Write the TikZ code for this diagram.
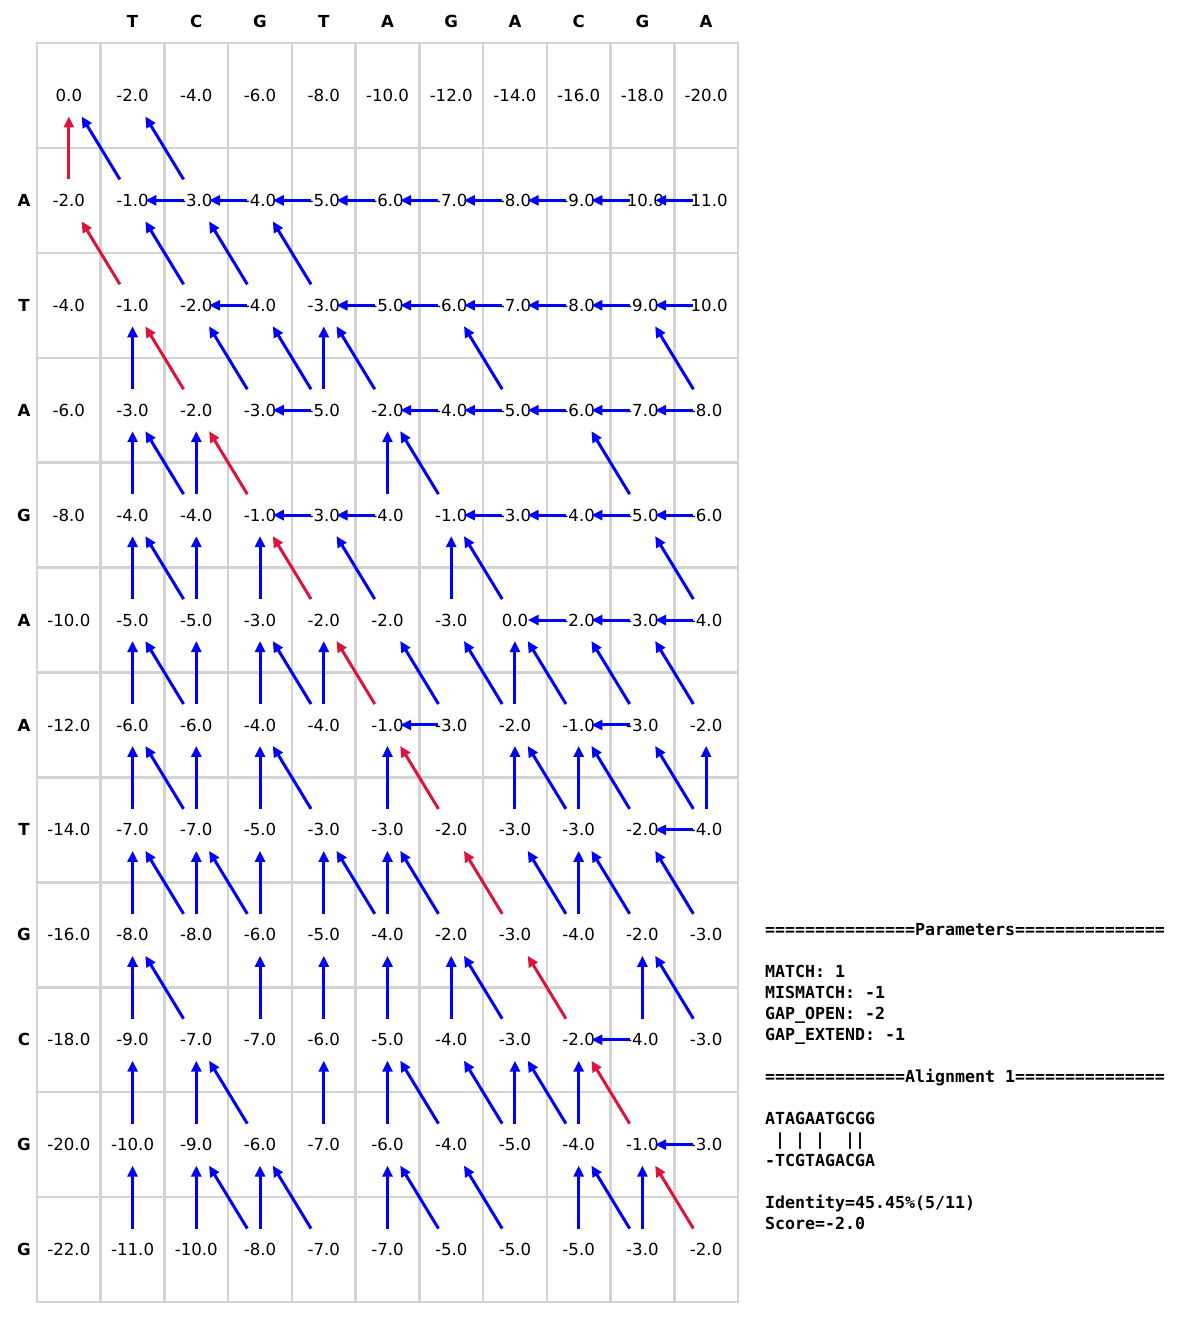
\documentclass[tikz,border=0pt]{standalone}
\usepackage{fontspec}
\setmainfont{DejaVu Sans}
\setmonofont{DejaVu Sans Mono}
\usetikzlibrary{calc,arrows.meta}
\definecolor{pathred}{RGB}{220,20,60}
\definecolor{arrblue}{RGB}{0,0,255}
\definecolor{gridgray}{RGB}{211,211,211}
\begin{document}
\begin{tikzpicture}[x=1pt,y=-1pt,
  cellval/.style={font=\fontsize{16.6}{20}\selectfont, inner sep=0pt},
  headlbl/.style={font=\fontsize{16.6}{20}\selectfont\bfseries, inner sep=0pt},
  paneltxt/.style={font=\fontsize{16.6}{20}\selectfont\ttfamily\bfseries, inner sep=0pt, anchor=base west},
  gridline/.style={draw=gridgray, line width=2.5pt},
  trace/.style={line width=3pt, -{Triangle[length=11pt,width=10pt]}},
  bluearr/.style={trace, color=arrblue},
  redarr/.style={trace, color=pathred}]
\useasboundingbox (0,0) rectangle (1200,1320);
% grid
\foreach \k in {1,...,10} \draw[gridline] ({37+63.727*\k},43) -- ({37+63.727*\k},1302);
\foreach \k in {1,...,11} \draw[gridline] (37,{43+104.917*\k}) -- (738,{43+104.917*\k});
\draw[gridline] (37,43) rectangle (738,1302);
% headers
\foreach \s [count=\j] in {T,C,G,T,A,G,A,C,G,A}
  \node[headlbl] (col\j) at ({37+63.727*(\j+0.5)},21) {\s};
\foreach \s [count=\i] in {A,T,A,G,A,A,T,G,C,G,G}
  \node[headlbl] (row\i) at (24,{43+104.917*(\i+0.5)}) {\s};
% cells
\foreach \rowvals [count=\i from 0] in {
 {0.0,-2.0,-4.0,-6.0,-8.0,-10.0,-12.0,-14.0,-16.0,-18.0,-20.0},
 {-2.0,-1.0,-3.0,-4.0,-5.0,-6.0,-7.0,-8.0,-9.0,-10.0,-11.0},
 {-4.0,-1.0,-2.0,-4.0,-3.0,-5.0,-6.0,-7.0,-8.0,-9.0,-10.0},
 {-6.0,-3.0,-2.0,-3.0,-5.0,-2.0,-4.0,-5.0,-6.0,-7.0,-8.0},
 {-8.0,-4.0,-4.0,-1.0,-3.0,-4.0,-1.0,-3.0,-4.0,-5.0,-6.0},
 {-10.0,-5.0,-5.0,-3.0,-2.0,-2.0,-3.0,0.0,-2.0,-3.0,-4.0},
 {-12.0,-6.0,-6.0,-4.0,-4.0,-1.0,-3.0,-2.0,-1.0,-3.0,-2.0},
 {-14.0,-7.0,-7.0,-5.0,-3.0,-3.0,-2.0,-3.0,-3.0,-2.0,-4.0},
 {-16.0,-8.0,-8.0,-6.0,-5.0,-4.0,-2.0,-3.0,-4.0,-2.0,-3.0},
 {-18.0,-9.0,-7.0,-7.0,-6.0,-5.0,-4.0,-3.0,-2.0,-4.0,-3.0},
 {-20.0,-10.0,-9.0,-6.0,-7.0,-6.0,-4.0,-5.0,-4.0,-1.0,-3.0},
 {-22.0,-11.0,-10.0,-8.0,-7.0,-7.0,-5.0,-5.0,-5.0,-3.0,-2.0}} {
  \foreach \v [count=\j from 0] in \rowvals {
    \node[cellval] (c\i-\j) at ({37+63.727*(\j+0.5)},{43+104.917*(\i+0.5)}) {\v};
  }
}
% blue diagonal arrows
\foreach \i/\j in {1/1,1/2,2/2,2/3,2/4,3/3,3/4,3/5,3/7,3/10,4/2,4/6,4/9,
  5/2,5/5,5/7,5/10,6/2,6/4,6/6,6/7,6/8,6/9,6/10,7/2,7/4,7/8,7/9,7/10,
  8/2,8/3,8/5,8/6,8/8,8/9,8/10,9/2,9/7,9/10,10/3,10/6,10/7,10/8,
  11/3,11/4,11/6,11/7,11/9} {
  \pgfmathtruncatemacro\pr{\i-1}\pgfmathtruncatemacro\pc{\j-1}
  \draw[bluearr] ($(c\i-\j)!0.2!(c\pr-\pc)$) -- ($(c\i-\j)!0.8!(c\pr-\pc)$);
}
% blue up arrows
\foreach \i/\j in {3/1,3/4,4/1,4/2,4/5,5/1,5/2,5/3,5/6,6/1,6/2,6/3,6/4,6/7,
  7/1,7/2,7/3,7/5,7/7,7/8,7/10,8/1,8/2,8/3,8/4,8/5,8/8,
  9/1,9/3,9/4,9/5,9/6,9/9,10/1,10/2,10/4,10/5,10/7,10/8,
  11/1,11/2,11/3,11/5,11/8,11/9} {
  \pgfmathtruncatemacro\pr{\i-1}
  \draw[bluearr] ($(c\i-\j)!0.2!(c\pr-\j)$) -- ($(c\i-\j)!0.8!(c\pr-\j)$);
}
% blue left arrows
\foreach \i/\j in {1/2,1/3,1/4,1/5,1/6,1/7,1/8,1/9,1/10,
  2/3,2/5,2/6,2/7,2/8,2/9,2/10,3/4,3/6,3/7,3/8,3/9,3/10,
  4/4,4/5,4/7,4/8,4/9,4/10,5/8,5/9,5/10,6/6,6/9,7/10,9/9,10/10} {
  \pgfmathtruncatemacro\pc{\j-1}
  \draw[bluearr] ($(c\i-\j)!0.2!(c\i-\pc)$) -- ($(c\i-\j)!0.8!(c\i-\pc)$);
}
% traceback path (red)
\draw[redarr] ($(c1-0)!0.2!(c0-0)$) -- ($(c1-0)!0.8!(c0-0)$);
\foreach \i/\j in {2/1,3/2,4/3,5/4,6/5,7/6,8/7,9/8,10/9,11/10} {
  \pgfmathtruncatemacro\pr{\i-1}\pgfmathtruncatemacro\pc{\j-1}
  \draw[redarr] ($(c\i-\j)!0.2!(c\pr-\pc)$) -- ($(c\i-\j)!0.8!(c\pr-\pc)$);
}
% text panel
\node[paneltxt] (p1) at (765,935) {===============Parameters===============};
\node[paneltxt] (p2) at (765,977) {MATCH: 1};
\node[paneltxt] (p3) at (765,998) {MISMATCH: -1};
\node[paneltxt] (p4) at (765,1019) {GAP\_OPEN: -2};
\node[paneltxt] (p5) at (765,1040) {GAP\_EXTEND: -1};
\node[paneltxt] (p6) at (765,1082) {==============Alignment\hphantom{A}1===============};
\node[paneltxt] (p7) at (765,1124) {ATAGAATGCGG};
\node[paneltxt] (p8) at (765,1145) {\hphantom{A}|\hphantom{A}|\hphantom{A}|\hphantom{AA}||};
\node[paneltxt] (p9) at (765,1166) {-TCGTAGACGA};
\node[paneltxt] (p10) at (765,1208) {Identity=45.45\%(5/11)};
\node[paneltxt] (p11) at (765,1229) {Score=-2.0};
\end{tikzpicture}
\end{document}
